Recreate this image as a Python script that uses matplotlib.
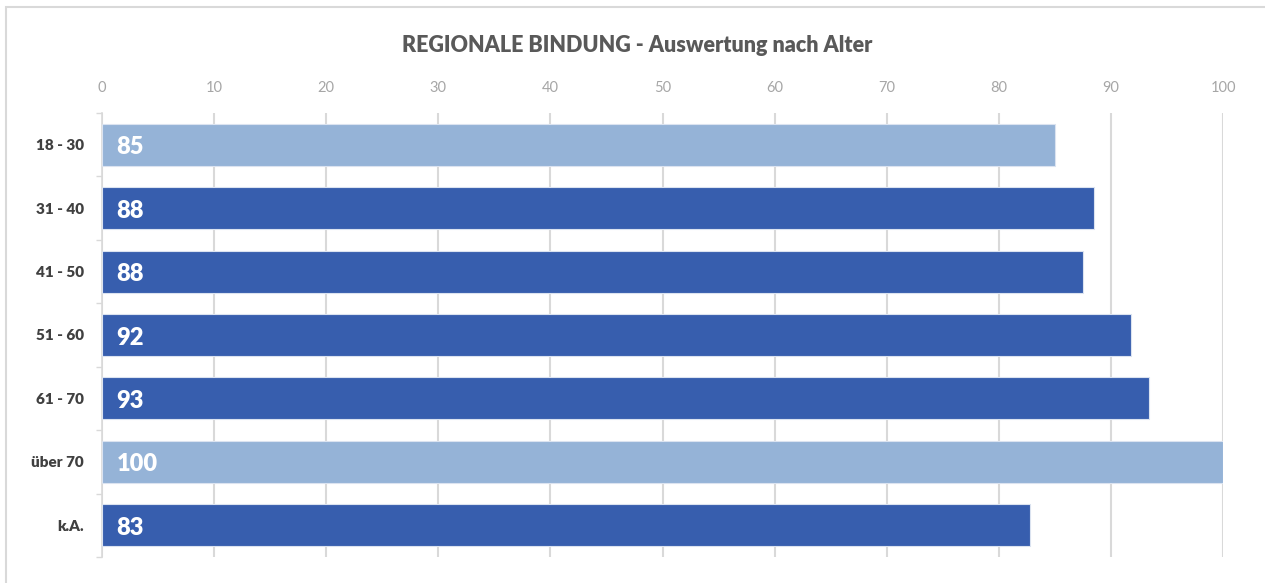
import matplotlib.pyplot as plt
from matplotlib.patches import Rectangle

# Daten
kategorien = ['18 - 30', '31 - 40', '41 - 50', '51 - 60', '61 - 70', 'über 70', 'k.A.']
werte = [85.0, 88.5, 87.5, 91.8, 93.4, 100.0, 82.8]
wert_labels = ['85', '88', '88', '92', '93', '100', '83']
farben = ['#95B3D7', '#375EAE', '#375EAE', '#375EAE', '#375EAE', '#95B3D7', '#375EAE']
x_ticks = [0, 10, 20, 30, 40, 50, 60, 70, 80, 90, 100]

plt.rcParams['font.family'] = ['Lato', 'DejaVu Sans']

fig = plt.figure(figsize=(12.65, 5.83), dpi=100)
ax = fig.add_axes([102 / 1265, 26 / 583, 1121 / 1265, 444 / 583])

y = list(range(len(kategorien)))
ax.barh(y, werte, height=0.66, color=farben, edgecolor='#dbe3f0', linewidth=0.8, zorder=3)

for yi, lab in zip(y, wert_labels):
    ax.text(1.3, yi + 0.04, lab, color='white', fontsize=17, fontweight='heavy',
            va='center', ha='left', zorder=4)

ax.set_xlim(0, 100)
ax.set_ylim(len(kategorien) - 0.5, -0.5)
ax.set_xticks(x_ticks)
ax.xaxis.tick_top()
ax.tick_params(axis='x', length=0, pad=13, labelsize=10.5, labelcolor='#a6a6a6')
ax.set_yticks(y)
ax.set_yticklabels(kategorien, fontweight='heavy', color='#404040', fontsize=11)
ax.tick_params(axis='y', length=0, pad=13)
ax.set_yticks([i - 0.5 for i in range(len(kategorien) + 1)], minor=True)
ax.tick_params(axis='y', which='minor', length=4, color='#d9d9d9', width=1)

ax.grid(axis='x', color='#d9d9d9', linewidth=1.5, zorder=0)
for s in ['top', 'right', 'bottom']:
    ax.spines[s].set_visible(False)
ax.spines['left'].set_color('#d9d9d9')
ax.spines['left'].set_linewidth(1.2)

fig.text(0.504, 1 - 45 / 583, 'REGIONALE BINDUNG - Auswertung nach Alter',
         ha='center', va='center', fontsize=15.5, fontweight='heavy', color='#595959')

fig.patches.append(Rectangle((6 / 1265, -0.05), 1.1, 1 - 7 / 583 + 0.05,
                             transform=fig.transFigure, fill=False,
                             edgecolor='#d9d9d9', linewidth=1.5))

fig.savefig('out.png', dpi=100)
